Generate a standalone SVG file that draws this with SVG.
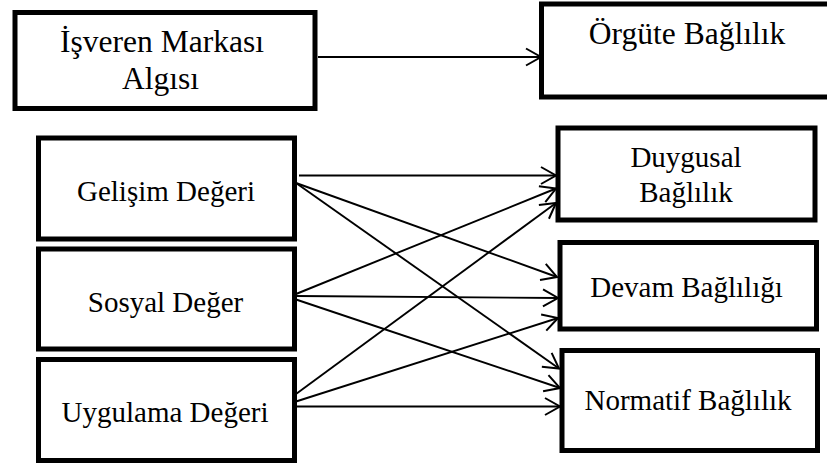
<svg xmlns="http://www.w3.org/2000/svg" width="827" height="469" viewBox="0 0 827 469">
  <style>
    .box { fill: #ffffff; stroke: #000000; stroke-width: 5; }
    .lbl { font-size: 29px; fill: #000000; text-anchor: middle; }
    .big { font-size: 31.5px; }
    .edge { stroke: #000000; stroke-width: 1.9; fill: none; marker-end: url(#arrow); }
  </style>
  <defs>
    <marker id="arrow" markerUnits="userSpaceOnUse" markerWidth="20" markerHeight="20" viewBox="-17 -10 19 20" refX="0" refY="0" orient="auto">
      <path d="M-15,-8.5 L0,0 L-15,8.5" fill="none" stroke="#000000" stroke-width="2"/>
    </marker>
  </defs>
  <rect width="827" height="469" fill="#ffffff"/>

  <g id="connectors">
    <line class="edge" x1="318" y1="57" x2="541" y2="57"/>
    <line class="edge" x1="299" y1="175.5" x2="556" y2="175.5"/>
    <line class="edge" x1="296" y1="183" x2="557" y2="277"/>
    <line class="edge" x1="296" y1="183" x2="559" y2="368.5"/>
    <line class="edge" x1="296" y1="294" x2="556" y2="188.5"/>
    <line class="edge" x1="296" y1="296" x2="558" y2="298"/>
    <line class="edge" x1="296" y1="299.5" x2="560" y2="388"/>
    <line class="edge" x1="296" y1="394" x2="556" y2="203"/>
    <line class="edge" x1="296" y1="401.5" x2="558" y2="318"/>
    <line class="edge" x1="296" y1="406.5" x2="560" y2="406.5"/>
  </g>

  <g font-family="Liberation Serif, serif">
    <g id="isveren-markasi-algisi">
      <rect class="box" x="15" y="12.5" width="300" height="96"/>
      <text class="lbl big" x="162" y="52">İşveren Markası</text>
      <text class="lbl big" x="160.5" y="88.5">Algısı</text>
    </g>

    <g id="orgute-baglilik">
      <rect class="box" x="541.5" y="4" width="292" height="93"/>
      <text class="lbl big" x="687" y="43.5">Örgüte Bağlılık</text>
    </g>

    <g id="gelisim-degeri">
      <rect class="box" x="38.5" y="138" width="256" height="101"/>
      <text class="lbl" x="166" y="201">Gelişim Değeri</text>
    </g>

    <g id="sosyal-deger">
      <rect class="box" x="38.5" y="249" width="256" height="100"/>
      <text class="lbl" x="165.5" y="311.5">Sosyal Değer</text>
    </g>

    <g id="uygulama-degeri">
      <rect class="box" x="38.5" y="359.5" width="256" height="101"/>
      <text class="lbl" x="165" y="421.5">Uygulama Değeri</text>
    </g>

    <g id="duygusal-baglilik">
      <rect class="box" x="558" y="128" width="257" height="92"/>
      <text class="lbl" x="686" y="166.5">Duygusal</text>
      <text class="lbl" x="686" y="201.5">Bağlılık</text>
    </g>

    <g id="devam-bagliligi">
      <rect class="box" x="560" y="242.5" width="256.5" height="86.5"/>
      <text class="lbl" x="686.5" y="296.5">Devam Bağlılığı</text>
    </g>

    <g id="normatif-baglilik">
      <rect class="box" x="562" y="350.5" width="255.5" height="100"/>
      <text class="lbl" x="688" y="410">Normatif Bağlılık</text>
    </g>
  </g>
</svg>
